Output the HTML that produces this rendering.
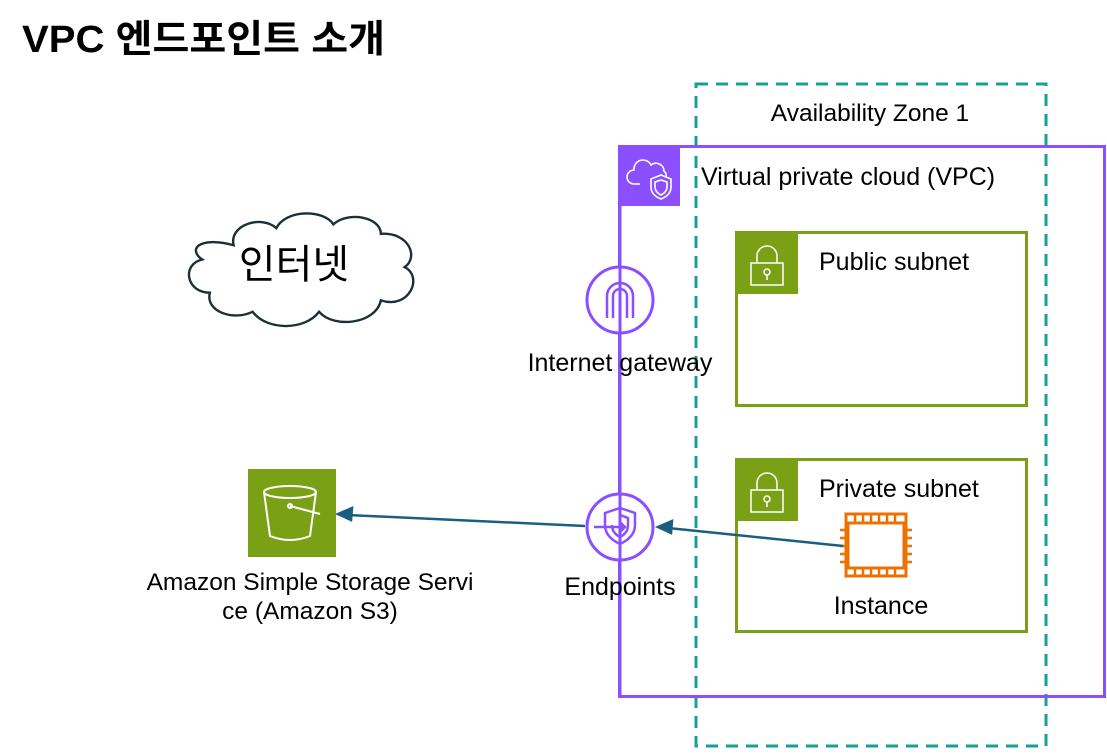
<!DOCTYPE html>
<html><head><meta charset="utf-8"><style>
body{margin:0;background:#fff;width:1107px;height:749px;overflow:hidden;font-family:"Liberation Sans","Noto Sans CJK KR",sans-serif}
</style></head><body>
<svg width="1107" height="749" viewBox="0 0 1107 749" xmlns="http://www.w3.org/2000/svg" font-family="Liberation Sans, Noto Sans CJK KR, sans-serif">
<text x="22" y="52" font-size="38" font-weight="bold" fill="#000" textLength="363" lengthAdjust="spacingAndGlyphs">VPC 엔드포인트 소개</text>
<!-- AZ -->
<rect x="696" y="84" width="350" height="662" fill="none" stroke="#1a9e9a" stroke-width="3" stroke-dasharray="12,8"/>
<text x="870" y="121" font-size="24.5" text-anchor="middle">Availability Zone 1</text>
<!-- VPC -->
<rect x="619.5" y="146.5" width="485" height="550" fill="none" stroke="#8c4fff" stroke-width="3"/>
<rect x="619" y="146" width="61" height="60" fill="#8c4fff"/>
<g fill="none" stroke="#fff" stroke-width="1.6">
<path d="M640 184 h-6 a7 7 0 0 1 0-14 a9 9 0 0 1 17-5 a8 8 0 0 1 13 6 a6 6 0 0 1 2 6"/>
<path d="M661 175 l10 4 v8 q0 8 -10 12 q-10 -4 -10 -12 v-8z"/>
<path d="M661 180 l6 2 v5 q0 5 -6 8 q-6 -3 -6 -8 v-5z"/>
</g>
<text x="701" y="185" font-size="25">Virtual private cloud (VPC)</text>
<!-- subnets -->
<rect x="736.5" y="232.5" width="290" height="173" fill="none" stroke="#7aa116" stroke-width="3"/>
<rect x="736" y="232" width="62" height="62" fill="#7aa116"/>
<rect x="736.5" y="459.5" width="290" height="172" fill="none" stroke="#7aa116" stroke-width="3"/>
<rect x="736" y="459" width="62" height="62" fill="#7aa116"/>
<g fill="none" stroke="#fff" stroke-width="1.5">
<rect x="751" y="263" width="32" height="22"/><path d="M757 263 v-7 a10 10 0 0 1 20 0 v7"/><circle cx="767" cy="272" r="3"/><path d="M767 275 v5"/>
<rect x="751" y="490" width="32" height="22"/><path d="M757 490 v-7 a10 10 0 0 1 20 0 v7"/><circle cx="767" cy="499" r="3"/><path d="M767 502 v5"/>
</g>
<text x="819" y="270" font-size="25">Public subnet</text>
<text x="819" y="497" font-size="25">Private subnet</text>
<!-- IGW -->
<circle cx="620" cy="300" r="33" fill="#fff" stroke="#8c4fff" stroke-width="3"/>
<path d="M607 318 v-22 a13 13 0 0 1 26 0 v22 M613 318 v-22 a7 7 0 0 1 14 0 v22" fill="none" stroke="#8c4fff" stroke-width="2.5"/>
<line x1="620" y1="206" x2="620" y2="697" stroke="#8c4fff" stroke-width="3"/>
<text x="620" y="371" font-size="25" text-anchor="middle">Internet gateway</text>
<!-- Endpoints -->
<circle cx="620" cy="527" r="33" fill="#fff" stroke="#8c4fff" stroke-width="3"/>
<g fill="none" stroke="#8c4fff" stroke-width="2.5">
<path d="M620 508 l15 5 v12 q0 12 -15 19 q-15 -7 -15 -19 v-12z"/>
<path d="M620 515 l8 3 v7 q0 8 -8 12 q-8 -4 -8 -12"/>
<path d="M594 527 h30 M619 521 l6 6 -6 6"/>
</g>
<line x1="620" y1="490" x2="620" y2="565" stroke="#8c4fff" stroke-width="3"/>
<text x="620" y="595" font-size="25" text-anchor="middle">Endpoints</text>
<!-- Instance -->
<rect x="848" y="523" width="56" height="45" fill="#fff" stroke="#ed7100" stroke-width="3"/>
<g stroke="#ed7100" stroke-width="2.5">
<path d="M855 523 v-8 M863 523 v-8 M871 523 v-8 M879 523 v-8 M887 523 v-8 M895 523 v-8"/>
<path d="M855 568 v8 M863 568 v8 M871 568 v8 M879 568 v8 M887 568 v8 M895 568 v8"/>
<path d="M848 530 h-8 M848 538 h-8 M848 546 h-8 M848 554 h-8 M848 562 h-8"/>
<path d="M904 530 h8 M904 538 h8 M904 546 h8 M904 554 h8 M904 562 h8"/>
</g>
<rect x="846" y="514" width="60" height="62" fill="none" stroke="#ed7100" stroke-width="3"/>
<text x="881" y="614" font-size="25" text-anchor="middle">Instance</text>
<!-- arrows -->
<g stroke="#1b5e7e" stroke-width="2.5" fill="#1b5e7e">
<line x1="843" y1="546" x2="668" y2="528"/>
<path d="M658 527 l14 -6 -1 12z"/>
<line x1="585" y1="526" x2="348" y2="515"/>
<path d="M338 514 l14 -6 -1 12z"/>
</g>
<!-- S3 -->
<rect x="248" y="469" width="88" height="88" fill="#7aa116"/>
<g fill="none" stroke="#fff" stroke-width="2">
<ellipse cx="290" cy="492" rx="26" ry="6"/>
<path d="M264 492 l6 44 q20 8 40 0 l6 -44"/>
<path d="M290 506 l30 8" /><circle cx="290" cy="506" r="2"/>
</g>
<text x="310" y="590" font-size="24.5" text-anchor="middle">Amazon Simple Storage Servi</text>
<text x="310" y="619" font-size="24.5" text-anchor="middle">ce (Amazon S3)</text>
<!-- cloud -->
<g transform="translate(188,212) scale(0.95,0.95) translate(-167,-205)">
<path d="M215 240 c-5-22 30-32 45-18 c10-20 50-20 60-4 c15-14 50-8 50 10 c30-2 40 25 25 35 c20 10 5 45-25 35 c-5 25-50 30-65 12 c-15 20-55 20-70 0 c-20 10-50 0-45-20 c-25 0-30-30-8-35 c-15-10-5-25 33-15z" fill="#fff" stroke="#1b3036" stroke-width="2.5"/>
</g>
<text x="294" y="278" font-size="40" text-anchor="middle">인터넷</text>
</svg>
</body></html>
